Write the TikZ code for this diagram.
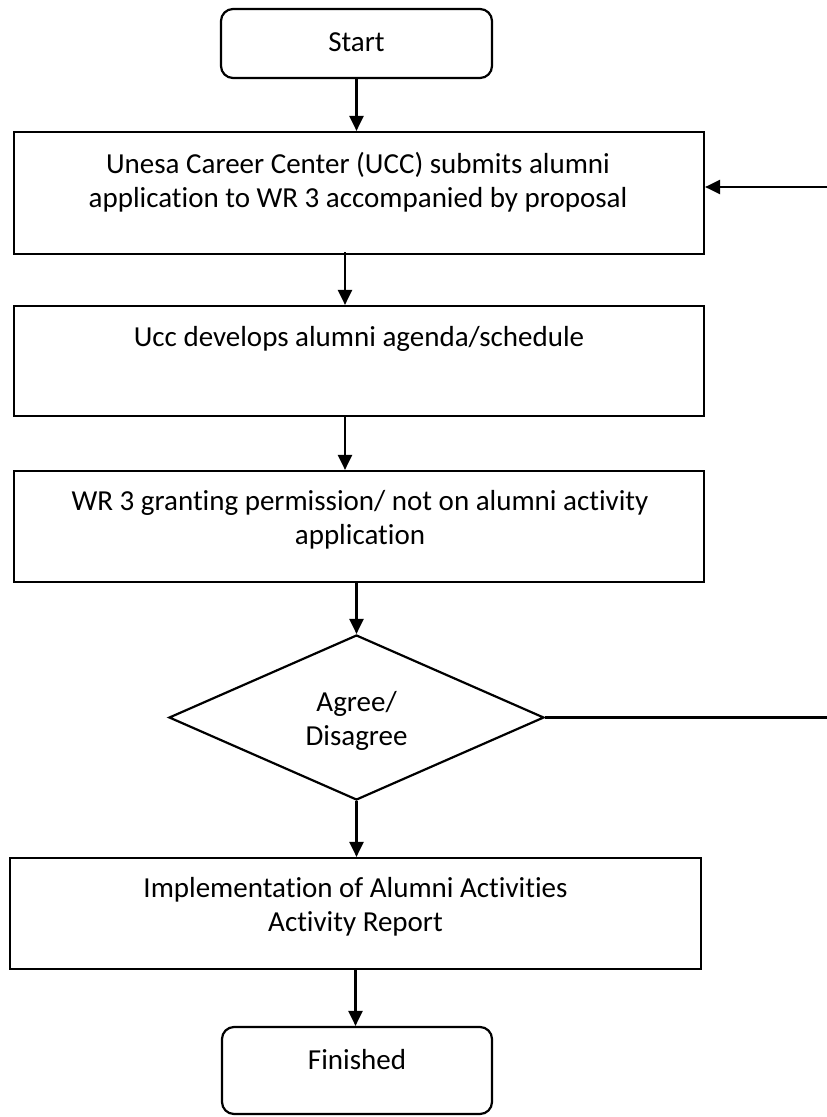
\documentclass[tikz,border=0pt]{standalone}
\usepackage{fontspec}
\setmainfont{Carlito}[Ligatures=NoCommon]
\usetikzlibrary{shapes.geometric,arrows.meta}
\tikzset{
  box/.style={draw, line width=2.2pt, rectangle, inner sep=0pt, minimum width=690pt},
  term/.style={draw, line width=2.2pt, rectangle, rounded corners=12pt, inner sep=0pt, minimum width=271pt},
  dec/.style={draw, line width=2.2pt, diamond, inner sep=0pt, minimum width=375pt, minimum height=165pt},
  txt/.style={align=center, inner sep=0pt, font=\fontsize{29}{34}\selectfont},
  conn/.style={line width=2.2pt, -{Triangle[length=15pt,width=14pt]}}
}
\begin{document}
\begin{tikzpicture}[x=1pt,y=-1pt]
\useasboundingbox (0,0) rectangle (827,1117);
\node[term, minimum height=69pt] (start) at (356.5,43.5) {};
\node[box, minimum height=122pt] (b1) at (359,193) {};
\node[box, minimum height=110pt] (b2) at (359,361) {};
\node[box, minimum height=111pt] (b3) at (359,526.5) {};
\node[dec] (d) at (356.5,717.5) {};
\node[box, minimum width=691pt, minimum height=111pt] (b4) at (355.5,913.5) {};
\node[term, minimum width=270pt, minimum height=87pt] (fin) at (357,1070.5) {};

\node[txt] (tstart) at (356.5,42) {Start};
\node[txt] (t1) at (358,182) {Unesa Career Center (UCC) submits alumni\\application to WR 3 accompanied by proposal};
\node[txt] (t2) at (359,339) {Ucc develops alumni agenda/schedule};
\node[txt] (t3) at (360,520) {WR 3 granting permission/ not on alumni activity\\application};
\node[txt] (td) at (356.6,720.5) {Agree/\\Disagree};
\node[txt] (t4) at (355.5,907) {Implementation of Alumni Activities\\Activity Report};
\node[txt] (tfin) at (357,1060) {Finished};

\coordinate (fbr) at (829.5,717.5);
\coordinate (fbt) at (829.5,187);

\draw[conn] (start.south) -- (start.south |- b1.north);
\draw[conn] ([xshift=-14pt,yshift=3pt]b1.south) -- ([xshift=-14pt]b2.north);
\draw[conn] ([xshift=-14pt]b2.south) -- ([xshift=-14pt]b3.north);
\draw[conn] (b3.south -| d.north) -- (d.north);
\draw[conn] (d.south) -- (d.south |- b4.north);
\draw[conn] (b4.south) -- (b4.south |- fin.north);
\draw[conn] (d.east) -- (fbr) -- (fbt) -- (b1.east |- fbt);
\end{tikzpicture}
\end{document}
